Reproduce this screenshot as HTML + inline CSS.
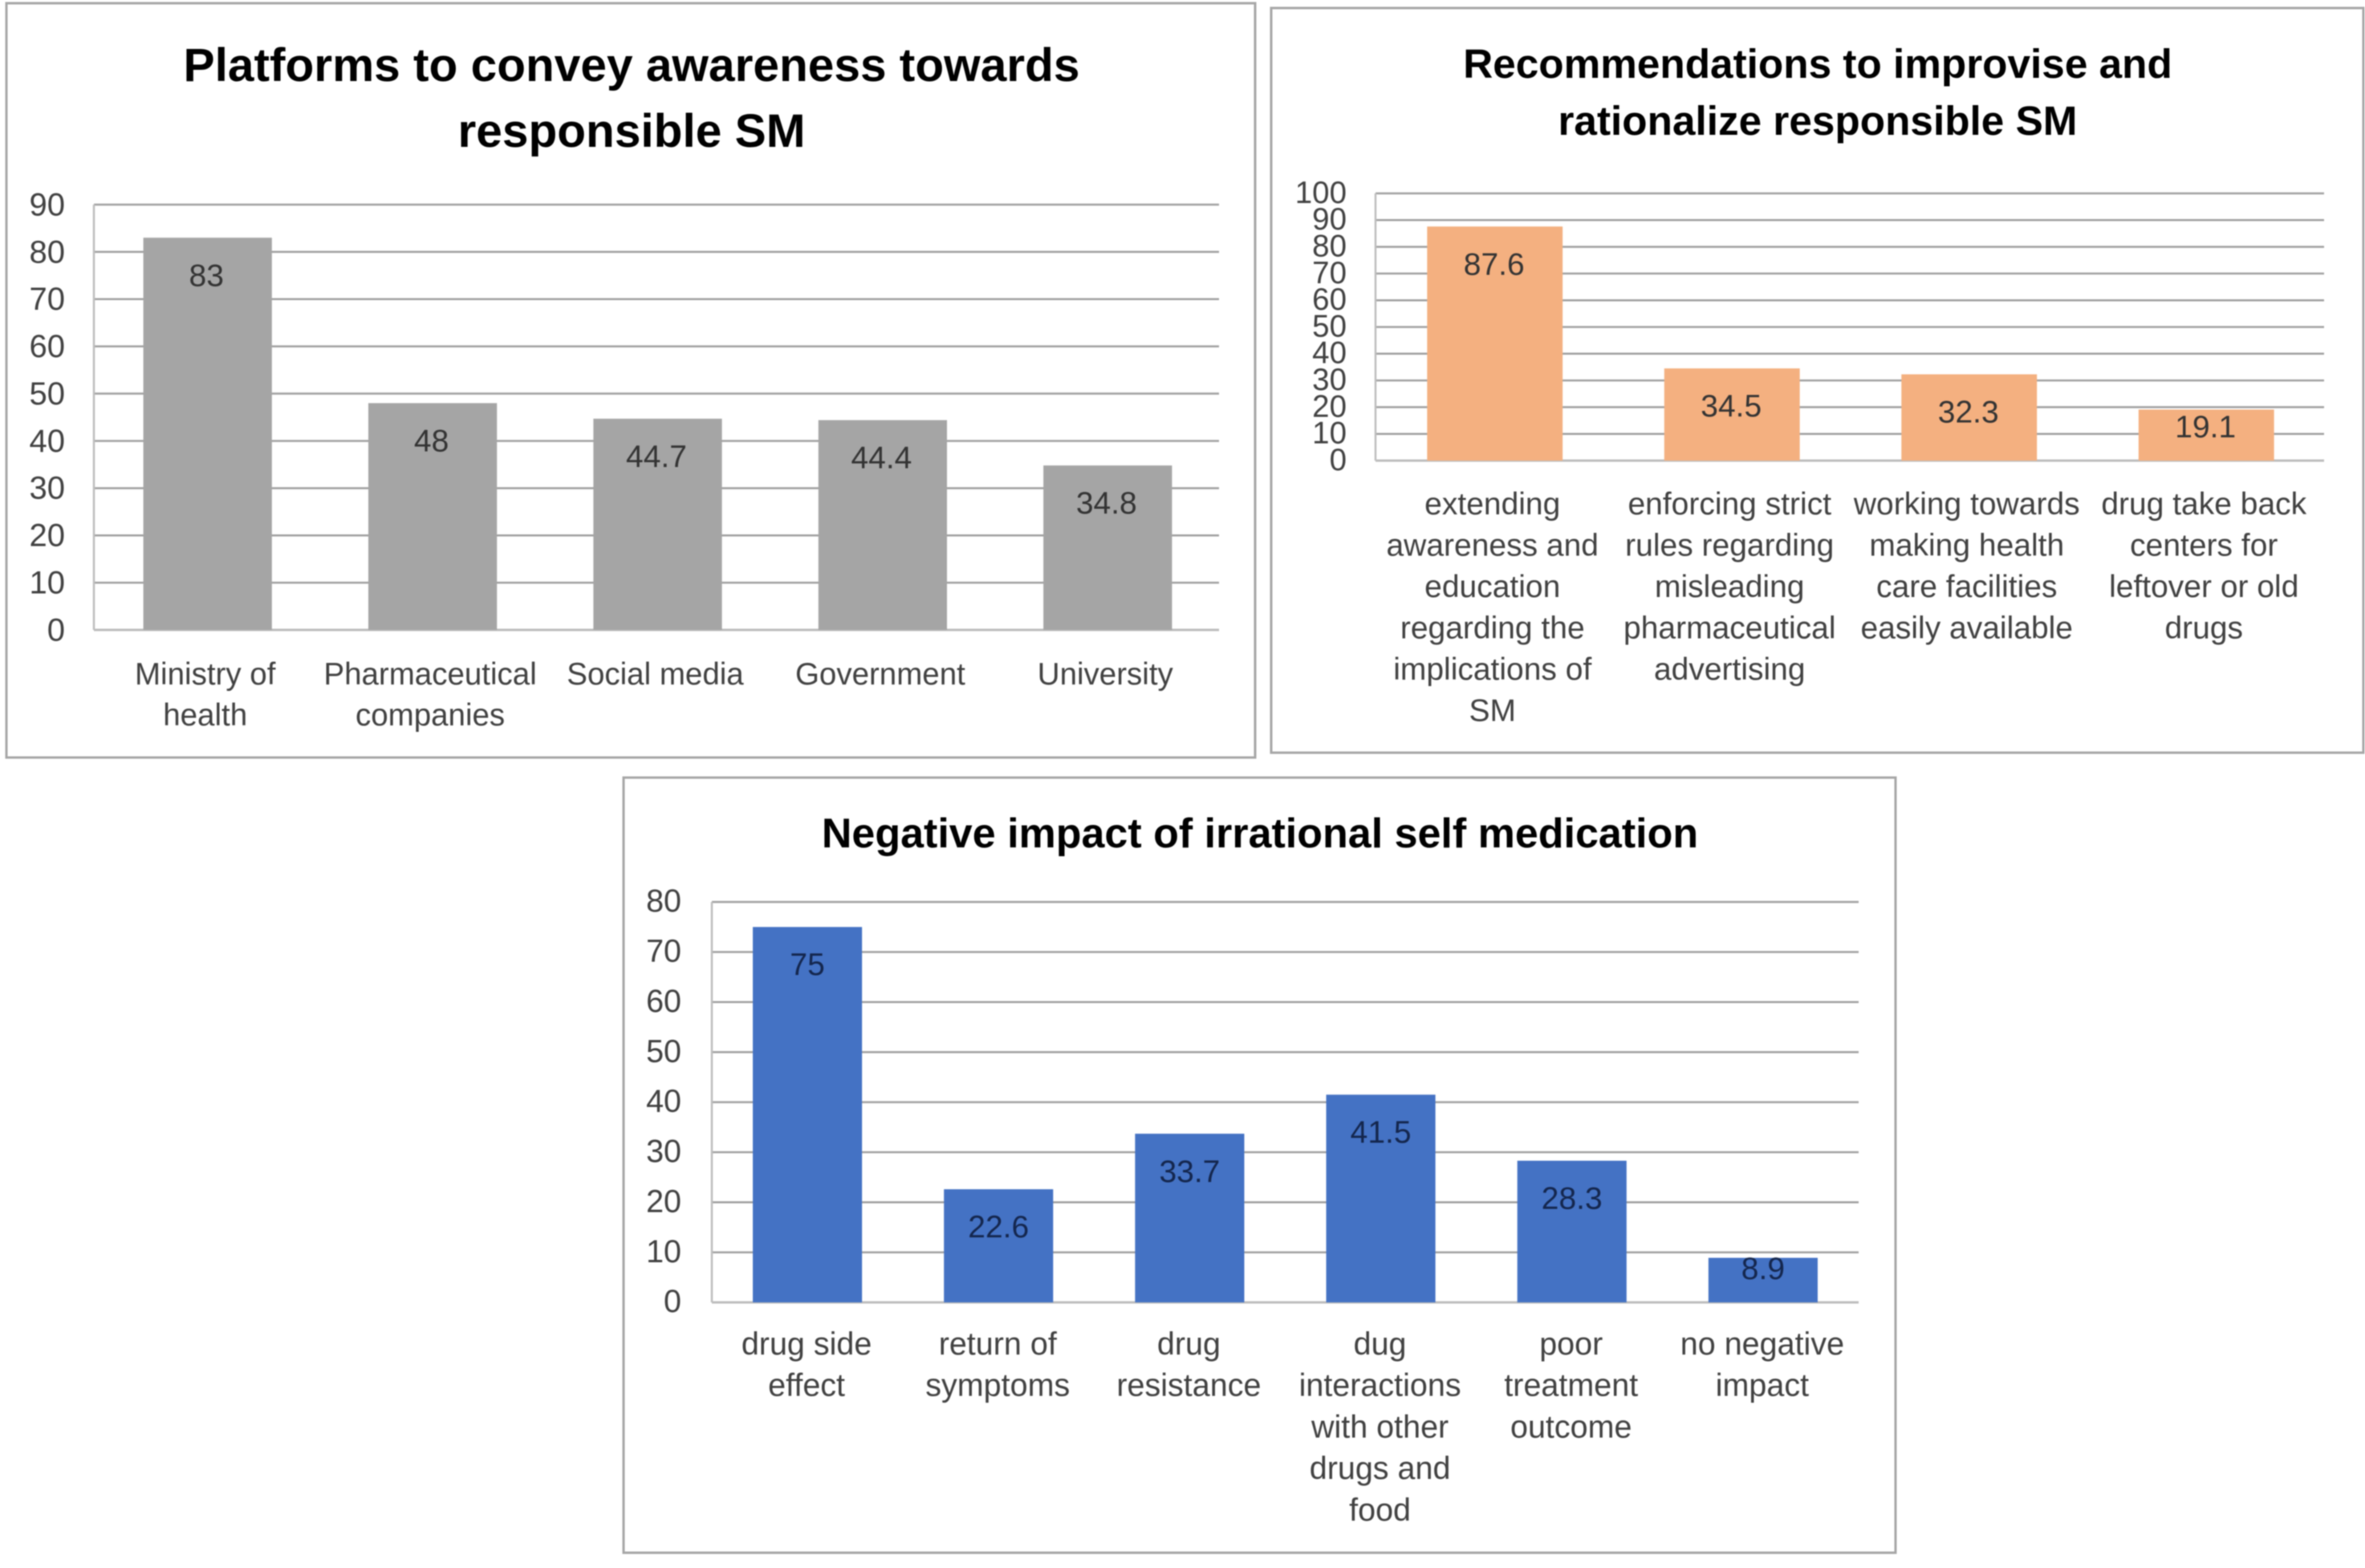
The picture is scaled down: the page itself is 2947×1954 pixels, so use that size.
<!DOCTYPE html>
<html>
<head>
<meta charset="utf-8">
<title>Self medication charts</title>
<style>
html,body{margin:0;padding:0;background:#fff}
svg{display:block;filter:blur(0.9px)}
text{font-family:"Liberation Sans",sans-serif}
</style>
</head>
<body>
<svg id="figure" xmlns="http://www.w3.org/2000/svg" width="2947" height="1954" viewBox="0 0 2947 1954"></svg>
<script>
const platformCategories = [["Ministry of","health"],["Pharmaceutical","companies"],["Social media"],["Government"],["University"]];
const platformValues = [83,48,44.7,44.4,34.8];
const platformTicks = [0,10,20,30,40,50,60,70,80,90];
const platformTitle = ["Platforms to convey awareness towards","responsible SM"];

const recommendationCategories = [["extending","awareness and","education","regarding the","implications of","SM"],["enforcing strict","rules regarding","misleading","pharmaceutical","advertising"],["working towards","making health","care facilities","easily available"],["drug take back","centers for","leftover or old","drugs"]];
const recommendationValues = [87.6,34.5,32.3,19.1];
const recommendationTicks = [0,10,20,30,40,50,60,70,80,90,100];
const recommendationTitle = ["Recommendations to improvise and","rationalize responsible SM"];

const impactCategories = [["drug side","effect"],["return of","symptoms"],["drug","resistance"],["dug","interactions","with other","drugs and","food"],["poor","treatment","outcome"],["no negative","impact"]];
const impactValues = [75,22.6,33.7,41.5,28.3,8.9];
const impactTicks = [0,10,20,30,40,50,60,70,80];
const impactTitle = ["Negative impact of irrational self medication"];

const NS = "http://www.w3.org/2000/svg";
const figure = document.getElementById("figure");

function makeEl(tag, parent, attrs) {
  const el = document.createElementNS(NS, tag);
  for (const key in attrs) el.setAttribute(key, attrs[key]);
  parent.appendChild(el);
  return el;
}

function drawChart(cfg) {
  const group = makeEl("g", figure, {});
  
  

  const frame = makeEl("rect", group, {x:cfg.frame[0], y:cfg.frame[1], width:cfg.frame[2]-cfg.frame[0], height:cfg.frame[3]-cfg.frame[1], fill:"#fff", stroke:"#a6a6a6", "stroke-width":3});
  
  

  cfg.title.forEach(function (line, i) {
    const t = makeEl("text", group, {x:cfg.titleX, y:cfg.titleY + i*cfg.titleStep, "text-anchor":"middle", "font-size":cfg.titleSize, "font-weight":"bold", fill:"#000"});
    
    
    t.textContent = line;
  });

  const maxTick = cfg.ticks[cfg.ticks.length-1];
  const yScale = function (v) { return cfg.y0 - (v/maxTick)*(cfg.y0-cfg.yTop); };
  const band = (cfg.right-cfg.left)/cfg.categories.length;
  const xCenter = function (i) { return cfg.left + band*(i+0.5); };
  const barWidth = band/1.75;

  cfg.ticks.forEach(function (tick) {
    const y = yScale(tick);
    if (tick !== 0) {
      const grid = makeEl("line", group, {x1:cfg.left, x2:cfg.right, y1:y, y2:y, stroke:"#a0a0a0", "stroke-width":2.5});
      
      
    }
    const label = makeEl("text", group, {x:cfg.left-cfg.tickGap, y:y+cfg.tickSize*0.36+cfg.tickShift, "text-anchor":"end", "font-size":cfg.tickSize, fill:"#404040"});
    
    
    label.textContent = tick;
  });

  const yAxis = makeEl("line", group, {x1:cfg.left, x2:cfg.left, y1:cfg.yTop, y2:cfg.y0, stroke:"#bdbdbd", "stroke-width":2.5});
  
  

  const xAxis = makeEl("line", group, {x1:cfg.left, x2:cfg.right, y1:cfg.y0, y2:cfg.y0, stroke:"#bdbdbd", "stroke-width":3});
  
  

  cfg.values.forEach(function (value, i) {
    const top = yScale(value);
    const bar = makeEl("rect", group, {x:xCenter(i)-barWidth/2+cfg.barShift, y:top, width:barWidth, height:cfg.y0-top, fill:cfg.color});
    
    

    const labelCenter = Math.min(top+46, cfg.y0-43);
    const valueLabel = makeEl("text", group, {x:xCenter(i), y:labelCenter+cfg.valueSize*0.36, "text-anchor":"middle", "font-size":cfg.valueSize, fill:cfg.valueColor});
    
    
    valueLabel.textContent = value;

    cfg.categories[i].forEach(function (line, k) {
      const cat = makeEl("text", group, {x:xCenter(i)-cfg.catShift, y:cfg.catY + k*cfg.catStep, "text-anchor":"middle", "font-size":cfg.catSize, fill:"#404040"});
      
      
      cat.textContent = line;
    });
  });
}

drawChart({name:"platforms-chart", frame:[8,4,1564,944], title:platformTitle, titleX:787, titleY:101, titleStep:82, titleSize:58.6,
  categories:platformCategories, values:platformValues, ticks:platformTicks, color:"#a5a5a5", valueColor:"#333333",
  left:117, right:1519, y0:785, yTop:255, tickGap:36, tickSize:40, tickShift:-1, valueSize:39, catY:853, catStep:51, catSize:38.5, catShift:1.5, barShift:1.5});

drawChart({name:"recommendations-chart", frame:[1584,10,2945,938], title:recommendationTitle, titleX:2265, titleY:97, titleStep:71, titleSize:51.3,
  categories:recommendationCategories, values:recommendationValues, ticks:recommendationTicks, color:"#f4b080", valueColor:"#333333",
  left:1714, right:2896, y0:574, yTop:241, tickGap:36, tickSize:38.5, tickShift:-2, valueSize:39, catY:641, catStep:51.5, catSize:39, catShift:2, barShift:1});

drawChart({name:"negative-impact-chart", frame:[777,969,2362,1935], title:impactTitle, titleX:1570, titleY:1056, titleStep:0, titleSize:52,
  categories:impactCategories, values:impactValues, ticks:impactTicks, color:"#4472c4", valueColor:"#14264d",
  left:887, right:2316, y0:1623, yTop:1124, tickGap:38, tickSize:39.5, tickShift:-2, valueSize:39, catY:1688, catStep:51.7, catSize:39.5, catShift:1, barShift:0});
</script>
</body>
</html>
